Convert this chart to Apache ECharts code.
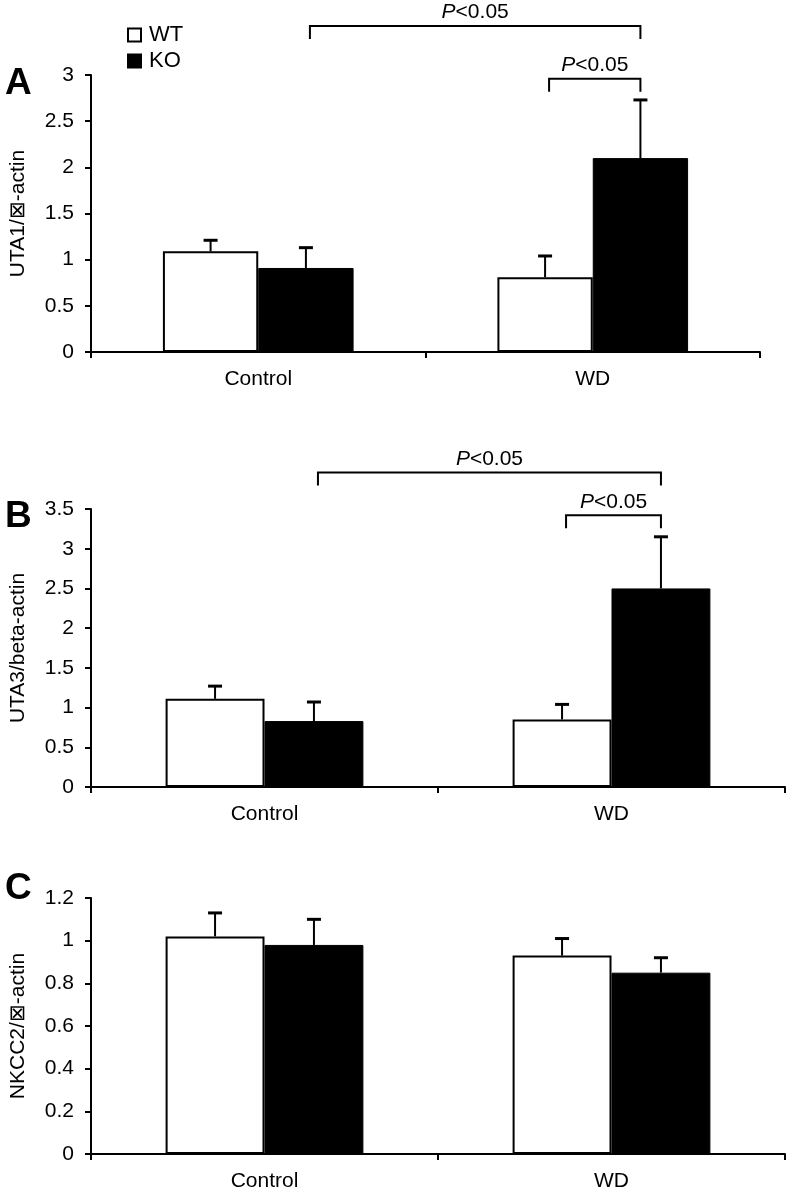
<!DOCTYPE html>
<html>
<head>
<meta charset="utf-8">
<script src="https://cdn.jsdelivr.net/npm/echarts@6/dist/echarts.min.js"></script>
<style>html,body{margin:0;padding:0;background:#fff}#c{width:786px;height:1192px}</style>
</head>
<body>
<div id="c"></div>
<script>
// ---- data ----
const categories = ['Control', 'WD'];
const seriesNames = ['WT', 'KO'];

const uta1WT = [1.09, 0.81];
const uta1WTerr = [0.12, 0.23];
const uta1KO = [0.91, 2.10];
const uta1KOerr = [0.22, 0.63];

const uta3WT = [1.11, 0.85];
const uta3WTerr = [0.16, 0.19];
const uta3KO = [0.83, 2.50];
const uta3KOerr = [0.24, 0.65];

const nkccWT = [1.02, 0.93];
const nkccWTerr = [0.11, 0.08];
const nkccKO = [0.98, 0.85];
const nkccKOerr = [0.12, 0.07];

const yMaxA = 3, yStepA = 0.5;
const yMaxB = 3.5, yStepB = 0.5;
const yMaxC = 1.2, yStepC = 0.2;

// brackets: [fromCategory, fromSeries(0=WT,1=KO), toCategory, toSeries, level]
const bracketsA = [[0, 1, 1, 1, 3.53], [1, 0, 1, 1, 2.96]];
const bracketsB = [[0, 1, 1, 1, 3.96], [1, 0, 1, 1, 3.42]];

const axisNames = ['UTA1/\u22A0-actin', 'UTA3/beta-actin', 'NKCC2/\u22A0-actin'];
const panelLetters = ['A', 'B', 'C'];

// ---- chart ----
const FONT = '"Liberation Sans", Arial, Helvetica, sans-serif';
const FS = 21;
const GAP = 0.43;
const chart = echarts.init(document.getElementById('c'), null, {renderer: 'canvas'});

const grids = [
  {left: 90, width: 670, top: 75, height: 277},
  {left: 90, width: 695, top: 509, height: 278},
  {left: 90, width: 695, top: 898, height: 256}
];

function xAxisFor(gi) {
  return {
    type: 'category', gridIndex: gi, data: categories,
    axisLine: {lineStyle: {color: '#000', width: 2}},
    axisTick: {show: true, interval: 0, length: 6, lineStyle: {color: '#000', width: 2}},
    axisLabel: {color: '#000', fontFamily: FONT, fontSize: FS, margin: 17}
  };
}
function yAxisFor(gi, max, step, name) {
  return {
    type: 'value', gridIndex: gi, min: 0, max: max, interval: step,
    name: name, nameLocation: 'middle', nameGap: 62, nameRotate: 90,
    nameTextStyle: {color: '#000', fontFamily: FONT, fontSize: FS},
    splitLine: {show: false},
    axisLine: {show: true, lineStyle: {color: '#000', width: 2}},
    axisTick: {show: true, length: 6, lineStyle: {color: '#000', width: 2}},
    axisLabel: {color: '#000', fontFamily: FONT, fontSize: FS, margin: 17}
  };
}
function barSeries(gi, name, vals) {
  const isWT = name === 'WT';
  return {
    type: 'bar', name: name, xAxisIndex: gi, yAxisIndex: gi, data: vals,
    barGap: '0%', barCategoryGap: (GAP * 100) + '%',
    itemStyle: isWT ? {color: '#fff', borderColor: '#000', borderWidth: 2} : {color: '#000', borderColor: '#000', borderWidth: 1},
    emphasis: {disabled: true}, silent: true
  };
}
function errSeries(gi, vals, errs, side) {
  return {
    type: 'custom', xAxisIndex: gi, yAxisIndex: gi, z: 5, silent: true,
    data: vals.map((v, i) => [i, v, v + errs[i]]),
    renderItem(params, api) {
      const catW = api.size([1, 0])[0];
      const bw = catW * (1 - GAP) / 2;
      const p0 = api.coord([api.value(0), api.value(1)]);
      const p1 = api.coord([api.value(0), api.value(2)]);
      const x = p0[0] + side * bw / 2;
      return {type: 'group', children: [
        {type: 'line', shape: {x1: x, y1: p0[1], x2: x, y2: p1[1]}, style: {stroke: '#000', lineWidth: 2}},
        {type: 'line', shape: {x1: x - 7, y1: p1[1], x2: x + 7, y2: p1[1]}, style: {stroke: '#000', lineWidth: 3}}
      ]};
    }
  };
}
function bracketSeries(gi, brackets) {
  return {
    type: 'custom', xAxisIndex: gi, yAxisIndex: gi, z: 6, silent: true, clip: false,
    data: brackets,
    renderItem(params, api) {
      const catW = api.size([1, 0])[0];
      const bw = catW * (1 - GAP) / 2;
      const lvl = api.value(4);
      const a = api.coord([api.value(0), lvl]);
      const b = api.coord([api.value(2), lvl]);
      const xa = a[0] + (api.value(1) === 0 ? -1 : 1) * bw / 2 + 4;
      const xb = b[0] + (api.value(3) === 0 ? -1 : 1) * bw / 2;
      const y = a[1];
      return {type: 'group', children: [
        {type: 'polyline', shape: {points: [[xa, y + 13], [xa, y], [xb, y], [xb, y + 13]]}, style: {stroke: '#000', lineWidth: 2, fill: null}},
        {type: 'text', x: (xa + xb) / 2, y: y - 3, style: {
          text: '{i|P}{n|<0.05}', align: 'center', verticalAlign: 'bottom',
          rich: {i: {fontStyle: 'italic', fontFamily: FONT, fontSize: FS, fill: '#000'}, n: {fontFamily: FONT, fontSize: FS, fill: '#000'}}
        }}
      ]};
    }
  };
}

const series = [
  barSeries(0, 'WT', uta1WT), barSeries(0, 'KO', uta1KO),
  errSeries(0, uta1WT, uta1WTerr, -1), errSeries(0, uta1KO, uta1KOerr, 1),
  bracketSeries(0, bracketsA),
  barSeries(1, 'WT', uta3WT), barSeries(1, 'KO', uta3KO),
  errSeries(1, uta3WT, uta3WTerr, -1), errSeries(1, uta3KO, uta3KOerr, 1),
  bracketSeries(1, bracketsB),
  barSeries(2, 'WT', nkccWT), barSeries(2, 'KO', nkccKO),
  errSeries(2, nkccWT, nkccWTerr, -1), errSeries(2, nkccKO, nkccKOerr, 1)
];

const letterTops = [65, 498, 870];

chart.setOption({
  animation: false,
  grid: grids,
  xAxis: [xAxisFor(0), xAxisFor(1), xAxisFor(2)],
  yAxis: [
    yAxisFor(0, yMaxA, yStepA, axisNames[0]),
    yAxisFor(1, yMaxB, yStepB, axisNames[1]),
    yAxisFor(2, yMaxC, yStepC, axisNames[2])
  ],
  legend: {
    data: seriesNames, orient: 'vertical', left: 122, top: 19, itemGap: 4,
    itemWidth: 13, itemHeight: 13, icon: 'rect',
    textStyle: {color: '#000', fontFamily: FONT, fontSize: 22, padding: [0, 0, 0, 3]}, selectedMode: false
  },
  graphic: panelLetters.map((t, i) => ({
    type: 'text', left: 5, top: letterTops[i],
    style: {text: t, fontFamily: FONT, fontWeight: 'bold', fontSize: 37, fill: '#000'}
  })),
  series: series
});
</script>
</body>
</html>
